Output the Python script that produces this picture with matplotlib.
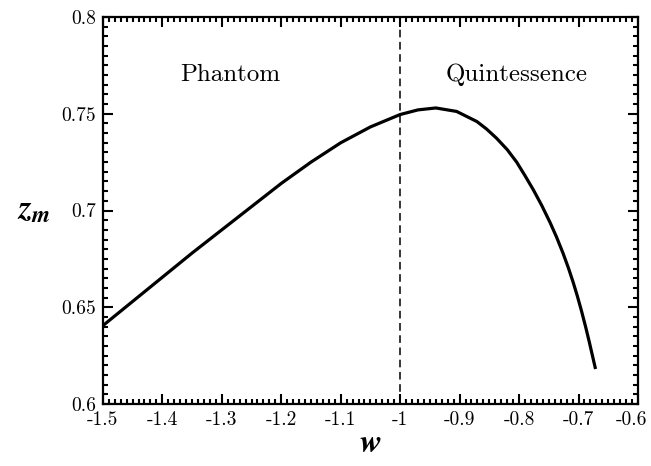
import matplotlib
matplotlib.use("Agg")
import matplotlib.pyplot as plt
import matplotlib.transforms as mtransforms
from matplotlib.ticker import MultipleLocator

plt.rcParams['font.family'] = 'cmr10'
plt.rcParams['mathtext.fontset'] = 'custom'
plt.rcParams['mathtext.it'] = 'STIXGeneral:italic:bold'
plt.rcParams['mathtext.rm'] = 'STIXGeneral:bold'
plt.rcParams['axes.unicode_minus'] = False

# values
w = [-1.500, -1.450, -1.400, -1.350, -1.300, -1.250, -1.200, -1.150,
     -1.100, -1.050, -1.000, -0.970, -0.940, -0.905, -0.871, -0.855,
     -0.838, -0.820, -0.804, -0.790, -0.776, -0.762, -0.748, -0.737,
     -0.726, -0.717, -0.709, -0.702, -0.695, -0.688, -0.682, -0.672]
zm = [0.6405, 0.6530, 0.6655, 0.6780, 0.6900, 0.7020, 0.7140, 0.7250,
      0.7350, 0.7432, 0.7496, 0.7520, 0.7530, 0.7512, 0.7460, 0.7422,
      0.7374, 0.7315, 0.7250, 0.7180, 0.7107, 0.7027, 0.6939, 0.6863,
      0.6779, 0.6703, 0.6629, 0.6558, 0.6481, 0.6398, 0.6322, 0.6189]

xticks = [-1.5, -1.4, -1.3, -1.2, -1.1, -1.0, -0.9, -0.8, -0.7, -0.6]
xlabels = ['-1.5', '-1.4', '-1.3', '-1.2', '-1.1', '-1', '-0.9', '-0.8', '-0.7', '-0.6']
yticks = [0.6, 0.65, 0.7, 0.75, 0.8]
ylabels = ['0.6', '0.65', '0.7', '0.75', '0.8']

fig = plt.figure(figsize=(6.51, 4.66), dpi=100)
ax = fig.add_axes([0.158, 0.133, 0.822, 0.8305])

ax.plot(w, zm, color='black', lw=2.3, solid_joinstyle='round')
ax.axvline(-1.0, color='black', lw=1.1, ls=(0, (5, 3)))

ax.set_xlim(-1.5, -0.6)
ax.set_ylim(0.6, 0.8)
ax.set_xticks(xticks)
ax.set_xticklabels(xlabels)
ax.set_yticks(yticks)
ax.set_yticklabels(ylabels)
ax.xaxis.set_minor_locator(MultipleLocator(0.01))
ax.yaxis.set_minor_locator(MultipleLocator(0.005))
ax.tick_params(which='both', direction='in', top=True, right=True, labelsize=14, width=1.5)
ax.tick_params(which='major', length=7, pad=5)
ax.tick_params(which='minor', length=3.5)
for s in ax.spines.values():
    s.set_linewidth(1.6)

# nudge the last x label so it stays inside the figure
lab = ax.get_xticklabels()[-1]
offset = mtransforms.ScaledTranslation(-5 / 72, 0, fig.dpi_scale_trans)
lab.set_transform(lab.get_transform() + offset)

ax.text(-1.286, 0.770, 'Phantom', ha='center', va='center', fontsize=18)
ax.text(-0.804, 0.770, 'Quintessence', ha='center', va='center', fontsize=18)

ax.set_xlabel(r'$w$', fontsize=24, labelpad=0)
ax.set_ylabel(r'$z_m$', fontsize=24, rotation=0, labelpad=20, va='center')

fig.savefig('out.png', dpi=100)
